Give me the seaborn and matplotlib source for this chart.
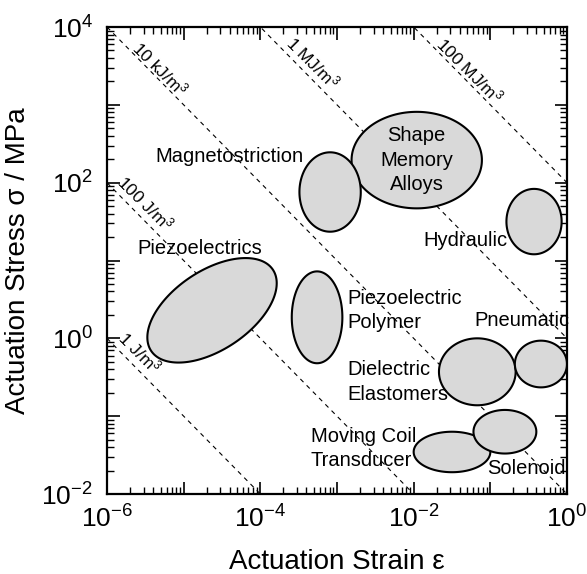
# Actuator map: actuation stress vs actuation strain (log-log)
import numpy as np
import pandas as pd
import seaborn as sns
import matplotlib.pyplot as plt
from matplotlib.ticker import FixedLocator, FuncFormatter

# actuator families: centre (log10 strain, log10 stress) and half-extent in decades
actuators = ['Moving Coil', 'Solenoid', 'Shape Memory Alloys', 'Magnetostriction',
             'Hydraulic', 'Piezoelectrics', 'Piezoelectric Polymer',
             'Dielectric Elastomers', 'Pneumatic']
log_strain = [-1.50, -0.81, -1.96, -3.09, -0.43, -4.63, -3.26, -1.17, -0.34]
log_stress = [-1.46, -1.20, 2.29, 1.88, 1.50, 0.36, 0.27, -0.43, -0.33]
half_major = [0.50, 0.41, 0.85, 0.40, 0.36, 0.95, 0.33, 0.50, 0.34]
half_minor = [0.26, 0.28, 0.62, 0.51, 0.42, 0.51, 0.59, 0.43, 0.30]
tilt_deg = [0, 0, 0, 0, 0, 33, 0, 0, 0]

# constant energy density lines (MJ/m^3) and their labels
energy = [1e-6, 1e-4, 1e-2, 1.0, 100.0]
energy_labels = ['1 J/m$^3$', '100 J/m$^3$', '10 kJ/m$^3$', '1 MJ/m$^3$', '100 MJ/m$^3$']

# text label layout (data coords)
energy_label_pos = [(10**-5.57, 10**-0.18), (10**-5.50, 10**1.74), (10**-5.31, 10**3.47),
                    (10**-3.31, 10**3.54), (10**-1.27, 10**3.45)]

sns.set_style("ticks")
plt.rcParams['font.family'] = ['Liberation Sans', 'DejaVu Sans']
plt.rcParams.update({
    'mathtext.default': 'regular',
    'text.color': 'black', 'axes.labelcolor': 'black',
    'xtick.color': 'black', 'ytick.color': 'black',
    'xtick.direction': 'in', 'ytick.direction': 'in',
    'xtick.top': True, 'ytick.right': True,
    'xtick.major.size': 9, 'ytick.major.size': 9,
    'xtick.major.width': 1.2, 'ytick.major.width': 1.2,
    'xtick.labelsize': 19, 'ytick.labelsize': 19,
    'xtick.major.pad': 8, 'ytick.major.pad': 10,
    'axes.linewidth': 1.6, 'axes.edgecolor': 'black',
})

fig = plt.figure(figsize=(5.87, 5.74), dpi=100)
ax = fig.add_axes([107 / 587, 1 - 494 / 574, 460 / 587, 467 / 574])
ax.set_xscale('log')
ax.set_yscale('log')

# energy density lines
strain = np.logspace(-6, 0, 200)
rows = []
for e in energy:
    for s in strain:
        rows.append({'strain': s, 'stress': e / s, 'energy': e})
lines = pd.DataFrame(rows)
lines = lines[(lines.stress >= 1e-2) & (lines.stress <= 1e4)]
sns.lineplot(data=lines, x='strain', y='stress', units='energy', estimator=None,
             color='black', lw=0.8, ls=(0, (4, 4)), ax=ax, zorder=1)

for lab, (px, py) in zip(energy_labels, energy_label_pos):
    ax.text(px, py, lab, fontsize=12.5, rotation=-45, ha='center', va='center',
            rotation_mode='anchor', zorder=1)

# ellipses in log space
t = np.linspace(0, 2 * np.pi, 200)
for cx, cy, a, b, th in zip(log_strain, log_stress, half_major, half_minor, tilt_deg):
    r = np.deg2rad(th)
    ex = cx + a * np.cos(t) * np.cos(r) - b * np.sin(t) * np.sin(r)
    ey = cy + a * np.cos(t) * np.sin(r) + b * np.sin(t) * np.cos(r)
    ax.fill(10**ex, 10**ey, facecolor='#d9d9d9', edgecolor='black', lw=1.5, zorder=2)

# annotations
fs = 14.5
lsp = 1.35
ax.text(10**-1.96, 10**2.29, 'Shape\nMemory\nAlloys', fontsize=fs, ha='center', va='center',
        linespacing=lsp, zorder=3)
ax.text(10**-4.40, 10**2.33, 'Magnetostriction', fontsize=fs, ha='center', va='center')
ax.text(10**-1.33, 10**1.26, 'Hydraulic', fontsize=fs, ha='center', va='center')
ax.text(10**-4.79, 10**1.16, 'Piezoelectrics', fontsize=fs, ha='center', va='center')
ax.text(10**-2.86, 10**0.36, 'Piezoelectric\nPolymer', fontsize=fs, ha='left', va='center',
        linespacing=lsp)
ax.text(10**-1.21, 10**0.235, 'Pneumatic', fontsize=fs, ha='left', va='center', zorder=1)
ax.text(10**-2.86, 10**-0.56, 'Dielectric\nElastomers', fontsize=fs, ha='left', va='center',
        linespacing=lsp)
ax.text(10**-3.34, 10**-1.42, 'Moving Coil\nTransducer', fontsize=fs, ha='left', va='center',
        linespacing=lsp)
ax.text(10**-1.04, 10**-1.67, 'Solenoid', fontsize=fs, ha='left', va='center', zorder=3)

ax.set_xlim(1e-6, 1)
ax.set_ylim(1e-2, 1e4)

ax.set_xlabel('Actuation Strain ε', fontsize=20, labelpad=12)
ax.set_ylabel('Actuation Stress σ / MPa', fontsize=20)
ax.yaxis.set_label_coords(-0.165, 0.5)

# ticks: decades long, 2..9 short, labels every second decade
def log_ticks(lo, hi):
    return [m * 10.0**k for k in range(lo, hi) for m in range(1, 10)] + [10.0**hi]

def fmt(v, pos):
    lv = np.log10(v)
    p = int(round(lv))
    if abs(lv - p) > 1e-6 or p % 2:
        return ''
    return '$10^{%d}$' % p

for axis, (lo, hi) in ((ax.xaxis, (-6, 0)), (ax.yaxis, (-2, 4))):
    locs = log_ticks(lo, hi)
    axis.set_major_locator(FixedLocator(locs))
    axis.set_major_formatter(FuncFormatter(fmt))
    for tick, loc in zip(axis.get_major_ticks(len(locs)), locs):
        lv = np.log10(loc)
        if abs(lv - round(lv)) > 1e-6:
            for ln in (tick.tick1line, tick.tick2line):
                ln.set_markersize(5)
                ln.set_markeredgewidth(1.0)

fig.savefig('out.png', dpi=100)
